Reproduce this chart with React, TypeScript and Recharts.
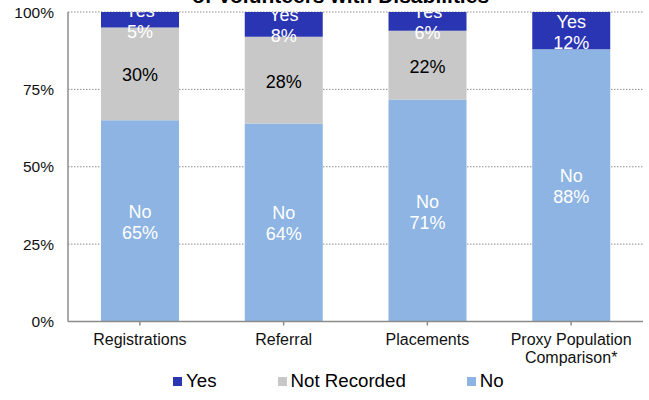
import { Bar, BarChart, CartesianGrid, LabelList, Legend, XAxis, YAxis } from 'recharts'

const categories = ['Registrations', 'Referral', 'Placements', 'Proxy Population\nComparison*']
const yesShare = [5, 8, 6, 12]
const notRecordedShare = [30, 28, 22, 0]
const noShare = [65, 64, 71, 88]
const percentTicks = [0, 0.25, 0.5, 0.75, 1]

const FONT = '"Liberation Sans", Arial, Helvetica, sans-serif'

const series = [
  { key: 'yes', name: 'Yes', color: '#2A35B4' },
  { key: 'notRecorded', name: 'Not Recorded', color: '#C8C8C8' },
  { key: 'no', name: 'No', color: '#8DB4E2' },
]

const data = categories.map((category, i) => ({
  category,
  yes: yesShare[i],
  notRecorded: notRecordedShare[i],
  no: noShare[i],
}))

type TickProps = { x?: number; y?: number; payload?: { value: string } }

function CategoryTick({ x = 0, y = 0, payload }: TickProps) {
  const lines = String(payload?.value ?? '').split('\n')
  return (
    <text x={x} y={y} textAnchor="middle" fontSize={16} fill="#111" fontFamily={FONT}>
      {lines.map((line, i) => (
        <tspan key={line} x={x} dy={i === 0 ? '0.71em' : 18}>
          {line}
        </tspan>
      ))}
    </text>
  )
}

// label drawn in the middle of a stacked segment; optional first line (series name)
function segmentLabel(heading: string | null, color: string, clipTop: boolean) {
  return (props: any) => {
    const { x, y, width, height, value, index } = props
    if (!value) return null
    const cx = Number(x) + Number(width) / 2
    const cy = Number(y) + Number(height) / 2 + 1
    const clipId = `seg-clip-${heading ?? 'v'}-${index}`
    const lines = heading ? [heading, `${value}%`] : [`${value}%`]
    const first = cy - (lines.length - 1) * 10.5
    return (
      <g clipPath={clipTop ? `url(#${clipId})` : undefined}>
        {clipTop && (
          <defs>
            <clipPath id={clipId}>
              <rect x={Number(x) - 40} y={Number(y)} width={Number(width) + 80} height={400} />
            </clipPath>
          </defs>
        )}
        <text textAnchor="middle" fontSize={18} fill={color} fontFamily={FONT}>
          {lines.map((line, i) => (
            <tspan key={line} x={cx} y={first + i * 21 + 6.5}>
              {line}
            </tspan>
          ))}
        </text>
      </g>
    )
  }
}

function renderLegend() {
  return (
    <div
      style={{
        display: 'flex',
        alignItems: 'center',
        height: 22,
        paddingLeft: 173,
        fontFamily: FONT,
        fontSize: 18.7,
        color: '#000',
      }}
    >
      {series.map((s) => (
        <div key={s.key} style={{ display: 'flex', alignItems: 'center', marginRight: 61 }}>
          <span style={{ width: 9, height: 9, background: s.color, marginRight: 4, display: 'inline-block' }} />
          <span style={{ lineHeight: '22px' }}>{s.name}</span>
        </div>
      ))}
    </div>
  )
}

export default function App() {
  return (
    <div style={{ position: 'absolute', left: 0, top: 0, width: 649, height: 400, overflow: 'hidden', background: '#fff' }}>
      <div
        style={{
          position: 'absolute',
          top: -14,
          left: 0,
          width: 681,
          textAlign: 'center',
          fontFamily: FONT,
          fontWeight: 'bold',
          fontSize: 21,
          lineHeight: '20px',
          color: '#000',
          whiteSpace: 'nowrap',
        }}
      >
        of Volunteers with Disabilities
      </div>
      <BarChart
        width={649}
        height={400}
        data={data}
        stackOffset="expand"
        margin={{ top: 12, right: 6, bottom: 8, left: 0 }}
      >
        <CartesianGrid vertical={false} stroke="#8c8c8c" strokeDasharray="1.5 1.5" />
        <XAxis
          dataKey="category"
          height={48.5}
          interval={0}
          tick={<CategoryTick />}
          tickSize={4}
          tickMargin={8}
          axisLine={{ stroke: '#8c8c8c', strokeWidth: 1.5 }}
          tickLine={{ stroke: '#8c8c8c', strokeWidth: 1.5 }}
        />
        <YAxis
          width={68}
          domain={[0, 1]}
          ticks={percentTicks}
          tickFormatter={(v) => `${Math.round(v * 100)}%`}
          tickLine={false}
          tickMargin={8}
          axisLine={{ stroke: '#8c8c8c', strokeWidth: 1.5 }}
          tick={{ fontSize: 15.5, fill: '#111', fontFamily: FONT }}
        />
        <Legend verticalAlign="bottom" content={renderLegend} />
        <Bar dataKey="no" name="No" stackId="share" fill="#8DB4E2" barSize={78} isAnimationActive={false}>
          <LabelList dataKey="no" content={segmentLabel('No', '#fff', false)} />
        </Bar>
        <Bar dataKey="notRecorded" name="Not Recorded" stackId="share" fill="#C8C8C8" barSize={78} isAnimationActive={false}>
          <LabelList dataKey="notRecorded" content={segmentLabel(null, '#000', false)} />
        </Bar>
        <Bar dataKey="yes" name="Yes" stackId="share" fill="#2A35B4" barSize={78} isAnimationActive={false}>
          <LabelList dataKey="yes" content={segmentLabel('Yes', '#fff', true)} />
        </Bar>
      </BarChart>
    </div>
  )
}
